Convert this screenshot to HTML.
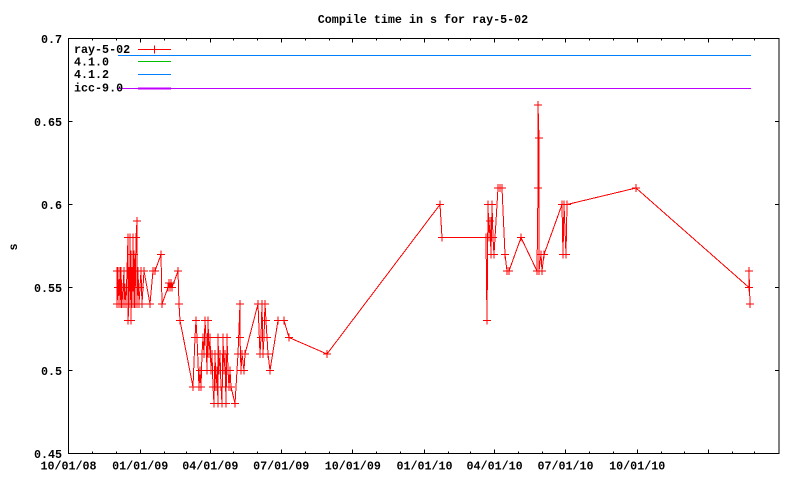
<!DOCTYPE html>
<html><head><meta charset="utf-8"><style>
html,body{margin:0;padding:0;background:#fff;}
svg{display:block;}
text{font-family:"Liberation Mono",monospace;font-weight:bold;font-size:11.7px;fill:#000;}
</style></head><body>
<svg width="800" height="480" viewBox="0 0 800 480" xmlns="http://www.w3.org/2000/svg" shape-rendering="crispEdges">
<defs>
<marker id="m" markerUnits="userSpaceOnUse" markerWidth="10" markerHeight="10" refX="5" refY="5" overflow="visible">
<path d="M1,5H9M5,1V9" stroke="#ff0000" stroke-width="1" fill="none"/>
</marker>
</defs>
<rect width="800" height="480" fill="#fff"/>
<text x="423" y="23" text-anchor="middle">Compile time in s for ray-5-02</text>
<text transform="translate(17,247) rotate(-90)" text-anchor="middle">s</text>
<!-- frame -->
<rect x="68.5" y="38.5" width="710.5" height="415" fill="none" stroke="#000" stroke-width="1"/>
<!-- y ticks -->
<g stroke="#000" stroke-width="1">
<path d="M68.5,453.5h4M68.5,370.5h4M68.5,287.5h4M68.5,204.5h4M68.5,121.5h4M68.5,38.5h4"/>
<path d="M779,453.5h-4M779,370.5h-4M779,287.5h-4M779,204.5h-4M779,121.5h-4M779,38.5h-4"/>
<!-- x major ticks -->
<path d="M140.5,453.5v-4M210.5,453.5v-4M281.5,453.5v-4M352.5,453.5v-4M424.5,453.5v-4M494.5,453.5v-4M565.5,453.5v-4M637.5,453.5v-4M708.5,453.5v-4"/>
<path d="M140.5,38.5v4M210.5,38.5v4M281.5,38.5v4M352.5,38.5v4M424.5,38.5v4M494.5,38.5v4M565.5,38.5v4M637.5,38.5v4M708.5,38.5v4"/>
<!-- x minor ticks -->
<path d="M92.5,453.5v-2M116.5,453.5v-2M164.5,453.5v-2M186.5,453.5v-2M233.5,453.5v-2M257.5,453.5v-2M305.5,453.5v-2M329.5,453.5v-2M376.5,453.5v-2M400.5,453.5v-2M448.5,453.5v-2M470.5,453.5v-2M518.5,453.5v-2M542.5,453.5v-2M589.5,453.5v-2M613.5,453.5v-2M661.5,453.5v-2M684.5,453.5v-2M732.5,453.5v-2M754.5,453.5v-2"/>
<path d="M92.5,38.5v2M116.5,38.5v2M164.5,38.5v2M186.5,38.5v2M233.5,38.5v2M257.5,38.5v2M305.5,38.5v2M329.5,38.5v2M376.5,38.5v2M400.5,38.5v2M448.5,38.5v2M470.5,38.5v2M518.5,38.5v2M542.5,38.5v2M589.5,38.5v2M613.5,38.5v2M661.5,38.5v2M684.5,38.5v2M732.5,38.5v2M754.5,38.5v2"/>
</g>
<!-- y labels -->
<g text-anchor="end">
<text x="62" y="458">0.45</text>
<text x="62" y="375">0.5</text>
<text x="62" y="292">0.55</text>
<text x="62" y="209">0.6</text>
<text x="62" y="126">0.65</text>
<text x="62" y="43">0.7</text>
</g>
<!-- x labels -->
<g text-anchor="middle">
<text x="68.5" y="469.5">10/01/08</text>
<text x="140.2" y="469.5">01/01/09</text>
<text x="210.3" y="469.5">04/01/09</text>
<text x="281.2" y="469.5">07/01/09</text>
<text x="352.8" y="469.5">10/01/09</text>
<text x="424.5" y="469.5">01/01/10</text>
<text x="494.6" y="469.5">04/01/10</text>
<text x="565.5" y="469.5">07/01/10</text>
<text x="637.2" y="469.5">10/01/10</text>
</g>
<!-- horizontal reference lines -->
<path d="M118,55.5H751" stroke="#00c000" stroke-width="1"/>
<path d="M118,55.5H751" stroke="#0080ff" stroke-width="1"/>
<path d="M118,88.5H751" stroke="#c000ff" stroke-width="1"/>
<!-- legend -->
<text x="74" y="53">ray-5-02</text>
<text x="74" y="65.5">4.1.0</text>
<text x="74" y="78">4.1.2</text>
<text x="74" y="91.5">icc-9.0</text>
<path d="M138,49.5H171" stroke="#ff0000"/>
<path d="M154.5,45.5V53.5" stroke="#ff0000"/>
<path d="M138,61.5H171" stroke="#00c000"/>
<path d="M138,74.5H171" stroke="#0080ff"/>
<path d="M138,88.5H171" stroke="#c000ff" stroke-width="2"/>
<!-- data -->
<polyline fill="none" stroke="#ff0000" stroke-width="1" marker-start="url(#m)" marker-mid="url(#m)" marker-end="url(#m)" points="
117,271 117,304 118,287.5 118,271 119,304 120,271 120,287.5 121,304 121,271 122,304 123,287.5 124,271 124,304 125,287.5 126,304 127,271 128,237.5 128,320.5 129,304 129,271 130,287.5 130,237.5 131,320.5 131,254.5 132,304 132,271 133,287.5 133,237.5 134,304 134,254.5 135,271 135,304 136,237.5 137,221 137,304 138,271 139,304 140,287.5 141,271 142,304 144,271 150,304 153,271 155,271 161,254.5 162,304 168,287.5 169,283 170,287.5 171,283 172,287.5 178,271 179,304 180,320.5 193,387
195,337.5 196,320.5 197,337.5 199,387 200,370.5 201,387 202,354 203,337.5 204,354 205,320.5 206,337.5 207,370.5 208,320.5 209,354 210,337.5 211,370.5 212,354 213,387 214,403.5 215,354 216,387 217,370.5 218,403.5 218,337.5 219,370.5 220,354 221,387 222,403.5 223,337.5 224,370.5 225,354 226,403.5 227,337.5 228,370.5 229,387 230,370.5 231,387 235,403.5 238,354 240,304 240,337.5 241,370.5 242,354 244,370.5 245,354 258,304 260,354 261,337.5 262,304 263,354 264,337.5 265,304 266,320.5 267,337.5 268,354 270,370.5 278,320.5 284,320.5 289,337.5 327,354
440,204.5 442,237.5 486,237.5 487,320.5 488,204.5 489,237.5 490,221 491,254.5 492,204.5 493,237.5 494,254.5 498,188 500,188 502,188 505,254.5 507,271 509,271 521,237.5 537,271 538,188 538,105 539,138 539,271 541,254.5 542,271 544,254.5 562,204.5 563,254.5 564,204.5 566,254.5 567,204.5 636,188 749,287.5 749,271 750,304"/>
</svg>
</body></html>
